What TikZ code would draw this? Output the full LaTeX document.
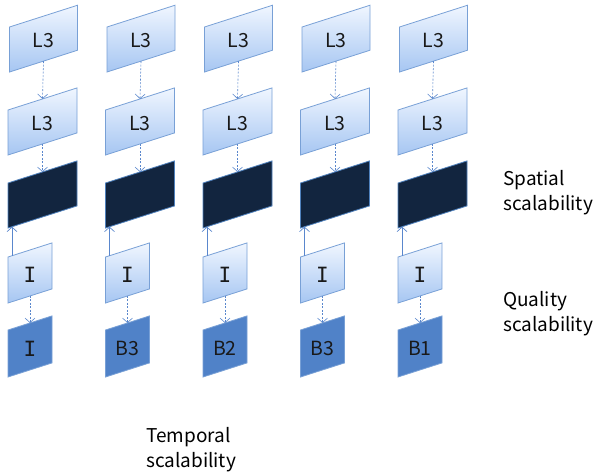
\documentclass[tikz,border=0pt]{standalone}
\usepackage{fontspec}
\setmainfont{Noto Sans CJK KR}
\newfontfamily\monoI{DejaVu Sans Mono}
\newcommand\letI{{\monoI\fontsize{21}{23}\selectfont I}}
\usetikzlibrary{arrows.meta}
\definecolor{lighttop}{RGB}{240,246,255}
\definecolor{lightbot}{RGB}{166,198,242}
\definecolor{lightedge}{RGB}{120,160,214}
\definecolor{darkfill}{RGB}{18,37,63}
\definecolor{darkedge}{RGB}{79,129,189}
\definecolor{bluefill}{RGB}{80,130,200}
\definecolor{blueedge}{RGB}{120,160,214}
\definecolor{arrowc}{RGB}{90,135,205}
\tikzset{
  lightbox/.style={draw=lightedge, line width=0.8pt, top color=lighttop, bottom color=lightbot},
  darkbox/.style={draw=darkedge, line width=0.8pt, fill=darkfill},
  bluebox/.style={draw=blueedge, line width=0.8pt, fill=bluefill},
  lbl/.style={inner sep=0pt, font=\fontsize{19.5}{23}\selectfont, text=black!90},
  dasharrow/.style={draw=arrowc, line width=0.6pt, dashed, dash pattern=on 2pt off 1.5pt, -{Straight Barb[length=4.5pt,width=10pt]}},
  solidarrow/.style={draw=arrowc, line width=0.7pt, -{Straight Barb[length=4.5pt,width=10pt]}},
  sidetext/.style={inner sep=0pt, anchor=north west, align=left, font=\fontsize{19}{25}\selectfont}
}
% #1 name, #2 x-left, #3 y top-left, #4 width, #5 height, #6 style, #7 text
\newcommand\plg[7]{%
  \path[#6] (#2,#3) -- (#2+#4,#3-0.32*#4) -- (#2+#4,#3-0.32*#4+#5) -- (#2,#3+#5) -- cycle;
  \node[lbl] (#1) at (#2+#4/2,#3+#5/2-0.16*#4+2) {#7};
  \coordinate (#1-n) at (#2+#4/2,#3-0.16*#4);
  \coordinate (#1-s) at (#2+#4/2,#3+#5-0.16*#4);
  \coordinate (#1-a) at (#2+4,#3-1.3);
  \coordinate (#1-b) at (#2+4,#3+#5-1.3);
}
\begin{document}
\begin{tikzpicture}[x=1pt,y=-1pt]
\useasboundingbox (0,0) rectangle (597,474);
\foreach \i/\lab in {0/I,1/B3,2/B2,3/B3,4/B1}{
  \pgfmathsetmacro\xl{8+97.5*\i}
  \plg{a\i}{\xl+1.5}{27}{68}{45}{lightbox}{L3}
  \plg{b\i}{\xl}{110}{69}{45}{lightbox}{L3}
  \plg{c\i}{\xl}{183}{69}{45}{darkbox}{}
  \plg{d\i}{\xl}{257}{44}{46}{lightbox}{\letI}
  \ifnum\i=0
    \plg{e\i}{\xl}{330}{44}{47}{bluebox}{\letI}
  \else
    \plg{e\i}{\xl}{330}{44}{47}{bluebox}{\lab}
  \fi
  \draw[dasharrow] (a\i-s) -- (b\i-n);
  \draw[dasharrow] (b\i-s) -- (c\i-n);
  \draw[solidarrow] (d\i-a) -- (c\i-b);
  \draw[dasharrow] (d\i-s) -- (e\i-n);
}
\node[sidetext] (spatial) at (503,170) {Spatial\\scalability};
\node[sidetext] (quality) at (503,291) {Quality\\scalability};
\node[sidetext] (temporal) at (146,427) {Temporal\\scalability};
\end{tikzpicture}
\end{document}
